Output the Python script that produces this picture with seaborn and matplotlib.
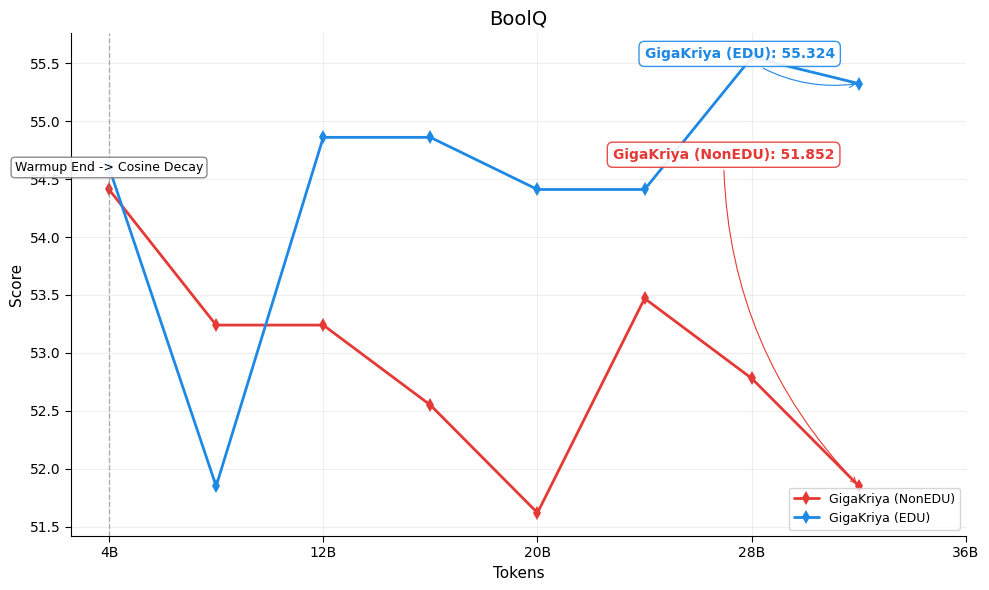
import pandas as pd
import numpy as np
import matplotlib.pyplot as plt
import seaborn as sns

# tokens (billions) and BoolQ scores
tokens = [4, 8, 12, 16, 20, 24, 28, 32]
nonedu = [54.41, 53.24, 53.24, 52.55, 51.62, 53.47, 52.78, 51.852]
edu = [54.60, 51.85, 54.86, 54.86, 54.41, 54.41, 55.55, 55.324]
xticks = [4, 12, 20, 28, 36]
xtick_labels = ['4B', '12B', '20B', '28B', '36B']

red = '#e53935'
blue = '#1e88e5'

df = pd.DataFrame({
    'tokens': tokens * 2,
    'score': nonedu + edu,
    'model': ['GigaKriya (NonEDU)'] * len(tokens) + ['GigaKriya (EDU)'] * len(tokens),
})

sns.set_style('white', {'text.color': 'black', 'axes.labelcolor': 'black',
                        'xtick.color': 'black', 'ytick.color': 'black',
                        'axes.edgecolor': 'black'})
fig, ax = plt.subplots(figsize=(9.89, 5.9), dpi=100)

sns.lineplot(data=df, x='tokens', y='score', hue='model',
             palette={'GigaKriya (NonEDU)': red, 'GigaKriya (EDU)': blue},
             marker='d', markersize=7, markeredgewidth=0, linewidth=2, ax=ax)

ax.axvline(4, color='gray', linestyle='--', linewidth=1, alpha=0.6)
ax.text(4, 54.6, 'Warmup End -> Cosine Decay', ha='center', va='center', fontsize=9,
        bbox=dict(boxstyle='round,pad=0.3', facecolor='white', edgecolor='gray', alpha=0.9))

ax.annotate(f'GigaKriya (EDU): {edu[-1]:.3f}', xy=(tokens[-1], edu[-1]), xytext=(27.55, 55.58),
            ha='center', va='center', fontsize=10, fontweight='bold', color=blue,
            bbox=dict(boxstyle='round,pad=0.4', facecolor='white', edgecolor=blue, alpha=0.9),
            arrowprops=dict(arrowstyle='->', color=blue, connectionstyle='arc3,rad=0.2', lw=0.8))
ax.annotate(f'GigaKriya (NonEDU): {nonedu[-1]:.3f}', xy=(tokens[-1], nonedu[-1]), xytext=(26.95, 54.71),
            ha='center', va='center', fontsize=10, fontweight='bold', color=red,
            bbox=dict(boxstyle='round,pad=0.4', facecolor='white', edgecolor=red, alpha=0.9),
            arrowprops=dict(arrowstyle='->', color=red, connectionstyle='arc3,rad=0.2', lw=0.8))

ax.set_xticks(xticks)
ax.set_xticklabels(xtick_labels)
ax.set_xlim(2.58, 36)
ax.set_ylim(51.42, 55.76)
ax.grid(True, alpha=0.3)
ax.set_title('BoolQ', fontsize=14)
ax.set_xlabel('Tokens', fontsize=11)
ax.set_ylabel('Score', fontsize=11)
ax.tick_params(axis='both', which='both', length=4, left=True, bottom=True)
ax.legend(loc='lower right', fontsize=9)
sns.despine()
fig.subplots_adjust(left=0.0718, right=0.9767, top=0.944, bottom=0.0915)
fig.savefig('out.png')
